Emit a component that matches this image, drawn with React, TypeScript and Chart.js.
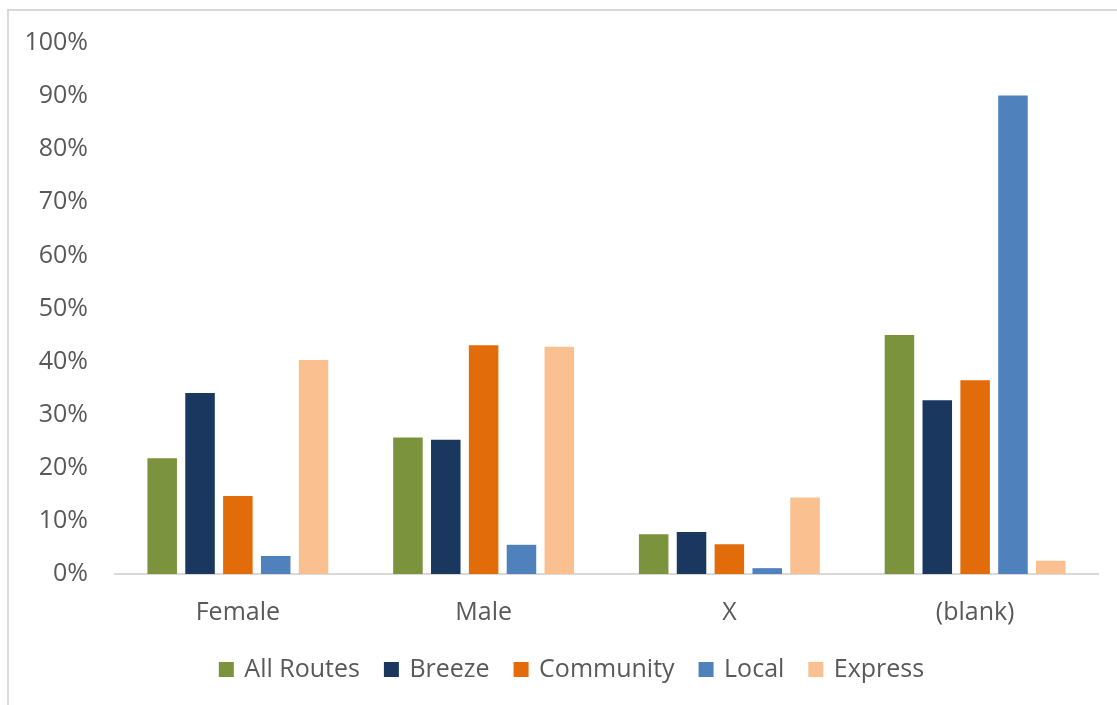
import React, { useEffect, useRef } from "react";
import { Chart, registerables } from "chart.js";

Chart.register(...registerables);

// Share of riders (%) by gender, per route type
const categories = ["Female", "Male", "X", "(blank)"];
const allRoutes = [21.8, 25.7, 7.5, 45.0];
const breeze = [34.1, 25.3, 7.9, 32.7];
const community = [14.7, 43.1, 5.6, 36.5];
const local = [3.4, 5.5, 1.1, 90.1];
const express = [40.3, 42.8, 14.4, 2.5];

const seriesNames = ["All Routes", "Breeze", "Community", "Local", "Express"];
const seriesColors = ["#7A933C", "#1A375F", "#E36C0A", "#4F81BD", "#FAC090"];
const seriesValues = [allRoutes, breeze, community, local, express];

const textColor = "#595959";
const fontFamily = "'Open Sans', 'Noto Sans', sans-serif";
const fontSize = 25;

// Centres the legend under the whole frame rather than under the padded layout box
const legendOffset = {
  id: "legendOffset",
  afterLayout(chart: Chart) {
    if (chart.legend) chart.legend.left += 21;
  },
};

export default function App() {
  const canvasRef = useRef<HTMLCanvasElement | null>(null);

  useEffect(() => {
    const canvas = canvasRef.current;
    if (!canvas) return;
    const chart = new Chart(canvas, {
      type: "bar",
      data: {
        labels: categories,
        datasets: seriesNames.map((name, i) => ({
          label: name,
          data: seriesValues[i],
          backgroundColor: seriesColors[i],
          borderWidth: 0,
          barPercentage: 0.78,
          categoryPercentage: 0.77,
        })),
      },
      options: {
        responsive: false,
        animation: false,
        devicePixelRatio: 1,
        layout: { padding: { left: 26, right: 19, top: 43, bottom: 13 } },
        plugins: {
          tooltip: { enabled: false },
          legend: {
            position: "bottom",
            labels: {
              color: textColor,
              font: { family: fontFamily, size: fontSize },
              usePointStyle: true,
              pointStyle: "rect",
              boxWidth: 11,
              boxHeight: 15,
              padding: 13,
              // trailing spaces widen the gap between legend entries
              generateLabels: (c) => {
                const items = Chart.defaults.plugins.legend.labels.generateLabels(c);
                return items.map((item, i) => ({
                  ...item,
                  pointStyle: "rect",
                  lineWidth: 0,
                  text: i < items.length - 1 ? item.text + "  " : item.text,
                }));
              },
            },
          },
        },
        scales: {
          x: {
            grid: { display: false },
            border: { display: true, color: "#D9D9D9", width: 2 },
            ticks: {
              color: textColor,
              font: { family: fontFamily, size: fontSize },
              padding: 16,
            },
          },
          y: {
            min: 0,
            max: 100,
            grid: { display: false },
            border: { display: false },
            afterFit: (scale) => {
              scale.width = 89;
            },
            ticks: {
              stepSize: 10,
              color: textColor,
              font: { family: fontFamily, size: fontSize },
              padding: 19,
              callback: (v) => `${v}%`,
            },
          },
        },
      },
      plugins: [legendOffset],
    });
    return () => chart.destroy();
  }, []);

  return (
    <div
      style={{
        position: "fixed",
        left: 0,
        top: 0,
        width: 1117,
        height: 705,
        background: "#ffffff",
        overflow: "hidden",
      }}
    >
      <canvas
        ref={canvasRef}
        width={1117}
        height={705}
        style={{ position: "absolute", left: 0, top: 0 }}
      />
      <div
        style={{
          position: "absolute",
          left: 7,
          top: 9,
          width: 1200,
          height: 800,
          borderTop: "2px solid #D9D9D9",
          borderLeft: "2px solid #D9D9D9",
          pointerEvents: "none",
        }}
      />
    </div>
  );
}
